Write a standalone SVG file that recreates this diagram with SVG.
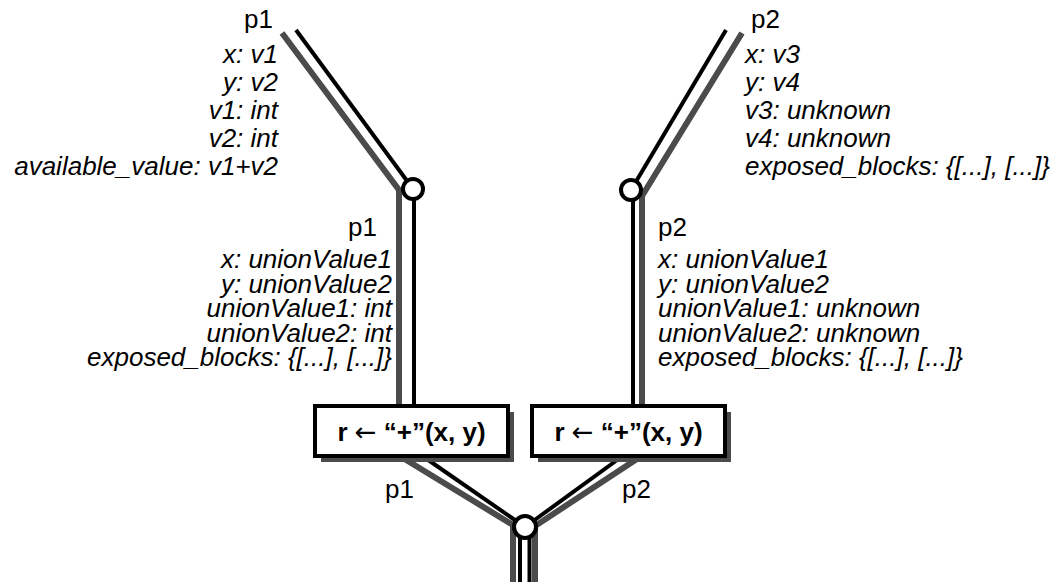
<svg xmlns="http://www.w3.org/2000/svg" width="1061" height="582" viewBox="0 0 1061 582">
  <defs>
    <style>
      .lbl { font-family: "Liberation Sans", Arial, Helvetica, sans-serif; font-size: 26px; fill: #000; }
      .it { font-style: italic; }
      .end { text-anchor: end; }
      .op { font-family: "Liberation Sans", Arial, Helvetica, sans-serif; font-size: 26px; font-weight: bold; text-anchor: middle; }
      .arrow { font-family: "DejaVu Sans", sans-serif; font-weight: normal; }
      .gray { fill: none; stroke: #4b4b4b; stroke-width: 6; stroke-linejoin: miter; }
      .black { fill: none; stroke: #000; stroke-width: 4; }
      .joint { fill: #fff; stroke: #000; stroke-width: 4; }
      .box { fill: #fff; stroke: #000; stroke-width: 4; }
      .shadow { fill: #4b4b4b; }
    </style>
  </defs>

  <rect width="1061" height="582" fill="#fff"/>

  <!-- flow connectors: gray = second channel, black = first channel -->
  <g id="connectors">
    <polyline class="gray" points="282,33 399,190 399,410"/>
    <polyline class="gray" points="742,33 642,196 642,410"/>
    <polyline class="gray" points="398,455 513,525 513,582"/>
    <polyline class="gray" points="643,455 535,526 535,582"/>

    <line class="black" x1="296" y1="30" x2="413" y2="189"/>
    <line class="black" x1="414" y1="189" x2="414" y2="410"/>
    <line class="black" x1="726" y1="30" x2="631" y2="190"/>
    <line class="black" x1="633" y1="190" x2="633" y2="410"/>
    <line class="black" x1="421" y1="455" x2="525" y2="527"/>
    <line class="black" x1="624" y1="455" x2="525" y2="527"/>
    <line class="black" x1="520" y1="527" x2="520" y2="582"/>
    <line class="black" x1="529.5" y1="527" x2="529.5" y2="582"/>
  </g>

  <!-- merge points -->
  <g id="join-left">
    <circle class="joint" cx="413" cy="189" r="10"/>
  </g>
  <g id="join-right">
    <circle class="joint" cx="631" cy="190" r="10"/>
  </g>
  <g id="join-bottom">
    <circle class="joint" cx="525" cy="527" r="11"/>
  </g>

  <!-- operation boxes -->
  <g id="op-left">
    <rect class="shadow" x="321" y="412" width="193" height="50"/>
    <rect class="box" x="315" y="406" width="193" height="50"/>
    <text class="op" x="411.5" y="441">r <tspan class="arrow">←</tspan> “+”(x, y)</text>
  </g>
  <g id="op-right">
    <rect class="shadow" x="538" y="412" width="193" height="50"/>
    <rect class="box" x="532" y="406" width="193" height="50"/>
    <text class="op" x="628.5" y="441">r <tspan class="arrow">←</tspan> “+”(x, y)</text>
  </g>

  <!-- state annotations -->
  <g id="state-p1-top">
    <text class="lbl end" x="273" y="28">p1</text>
    <text class="lbl it end" x="278" y="63">x: v1</text>
    <text class="lbl it end" x="278" y="91">y: v2</text>
    <text class="lbl it end" x="278" y="119">v1: int</text>
    <text class="lbl it end" x="278" y="147">v2: int</text>
    <text class="lbl it end" x="278" y="175">available_value: v1+v2</text>
  </g>
  <g id="state-p2-top">
    <text class="lbl" x="751" y="28">p2</text>
    <text class="lbl it" x="745" y="63">x: v3</text>
    <text class="lbl it" x="745" y="91">y: v4</text>
    <text class="lbl it" x="745" y="119">v3: unknown</text>
    <text class="lbl it" x="745" y="147">v4: unknown</text>
    <text class="lbl it" x="745" y="175">exposed_blocks: {[...], [...]}</text>
  </g>
  <g id="state-p1-mid">
    <text class="lbl end" x="377" y="236">p1</text>
    <text class="lbl it end" x="392" y="268">x: unionValue1</text>
    <text class="lbl it end" x="392" y="293">y: unionValue2</text>
    <text class="lbl it end" x="392" y="317">unionValue1: int</text>
    <text class="lbl it end" x="392" y="342">unionValue2: int</text>
    <text class="lbl it end" x="392" y="366">exposed_blocks: {[...], [...]}</text>
  </g>
  <g id="state-p2-mid">
    <text class="lbl" x="658" y="236">p2</text>
    <text class="lbl it" x="658" y="268">x: unionValue1</text>
    <text class="lbl it" x="658" y="293">y: unionValue2</text>
    <text class="lbl it" x="658" y="317">unionValue1: unknown</text>
    <text class="lbl it" x="658" y="342">unionValue2: unknown</text>
    <text class="lbl it" x="658" y="366">exposed_blocks: {[...], [...]}</text>
  </g>
  <g id="state-bottom">
    <text class="lbl" x="385" y="498">p1</text>
    <text class="lbl" x="622" y="498">p2</text>
  </g>
</svg>
